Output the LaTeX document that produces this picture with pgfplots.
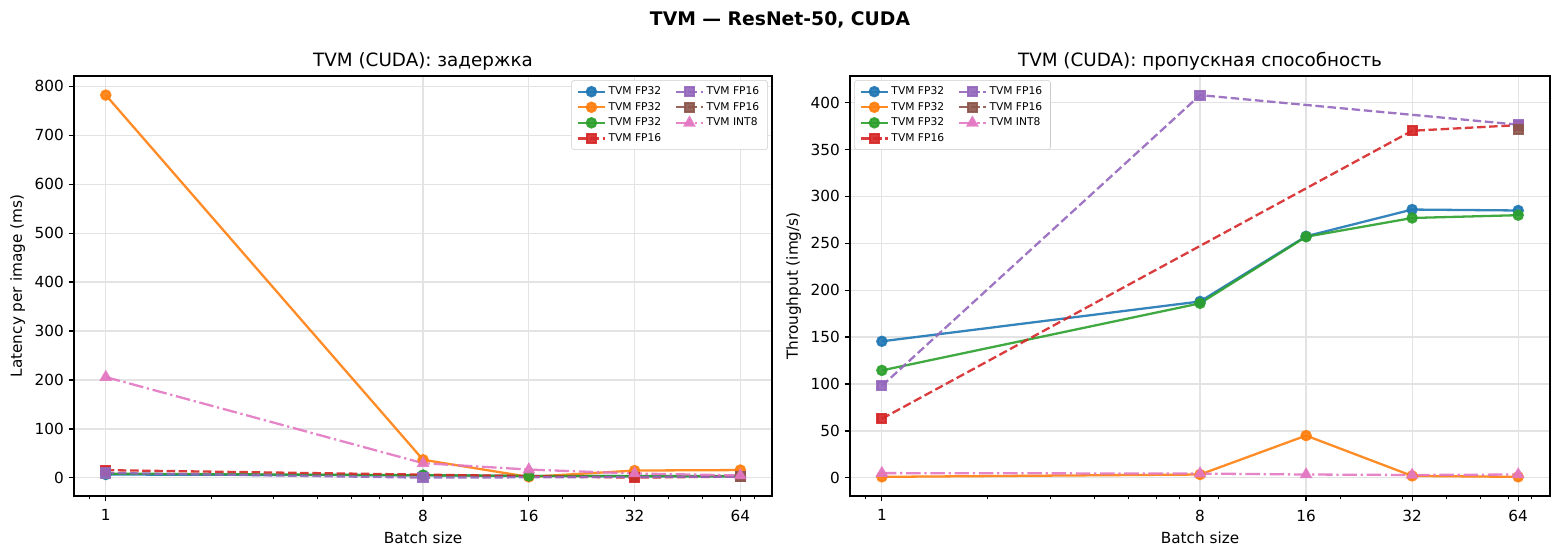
\documentclass[border=0pt]{standalone}
\usepackage{fontspec}
\setmainfont{DejaVu Sans}
\usepackage{pgfplots}
\pgfplotsset{compat=1.18}
\definecolor{c1}{HTML}{1F77B4}
\definecolor{c2}{HTML}{FF7F0E}
\definecolor{c3}{HTML}{2CA02C}
\definecolor{c4}{HTML}{D62728}
\definecolor{c5}{HTML}{9467BD}
\definecolor{c6}{HTML}{8C564B}
\definecolor{c7}{HTML}{E377C2}
\tikzset{
  sBlue/.style={color=c1, line width=1.65pt, solid, mark=*, mark size=3.3pt, mark options={solid}, opacity=0.9},
  sOrange/.style={color=c2, line width=1.65pt, solid, mark=*, mark size=3.3pt, mark options={solid}, opacity=0.9},
  sGreen/.style={color=c3, line width=1.65pt, solid, mark=*, mark size=3.3pt, mark options={solid}, opacity=0.9},
  sRed/.style={color=c4, line width=1.65pt, dash pattern=on 6.1pt off 2.65pt, mark=square*, mark size=3.2pt, mark options={solid}, opacity=0.9},
  sPurple/.style={color=c5, line width=1.65pt, dash pattern=on 6.1pt off 2.65pt, mark=square*, mark size=3.2pt, mark options={solid}, opacity=0.9},
  sBrown/.style={color=c6, line width=1.65pt, dash pattern=on 6.1pt off 2.65pt, mark=square*, mark size=3.2pt, mark options={solid}, opacity=0.9},
  sPink/.style={color=c7, line width=1.65pt, dash pattern=on 10.5pt off 2.65pt on 1.65pt off 2.65pt, mark=triangle*, mark size=3.7pt, mark options={solid}, opacity=0.9},
}
\begin{document}
\begin{tikzpicture}
\path[use as bounding box] (0,0) rectangle (1123.2pt,400.32pt);
\node[font=\bfseries\fontsize{13.5}{16}\selectfont] at (561.6pt,385.9pt) {TVM — ResNet-50, CUDA};
\begin{axis}[at={(53.28pt,43.2pt)}, anchor=south west,
    scale only axis, width=502.6pt, height=302.4pt,
    xmode=log, xmin=0.812, xmax=78.8,
    xtick={1,8,16,32,64}, xticklabels={1,8,16,32,64},
    minor xtick={0.9,2,3,4,5,6,7,9,20,30,40,50,60,70},
    tick align=outside, tick pos=left,
    major tick length=3.85pt, minor tick length=2.2pt,
    every tick/.style={black, line width=0.88pt},
    every minor tick/.style={black, line width=0.66pt},
    grid=major, major grid style={black!11, line width=0.88pt},
    axis line style={line width=0.88pt},
    tick label style={font=\fontsize{11}{13}\selectfont},
    xticklabel style={yshift=-2.5pt},
    label style={font=\fontsize{11}{13}\selectfont},
    xlabel style={yshift=-0.8pt},
    title style={font=\fontsize{13.2}{15}\selectfont, at={(0.5,1)}, anchor=base, yshift=1pt},
    /pgf/number format/assume math mode=true,
    xlabel={Batch size},
    legend columns=2,
    legend cell align=left,
    legend image code/.code={\draw[mark repeat=2,mark phase=2] plot coordinates {(0pt,0pt) (9.5pt,0pt) (19pt,0pt)};},
    legend style={font=\fontsize{7.7}{9}\selectfont, draw=black!20, rounded corners=2pt,
      inner xsep=4pt, inner ysep=2.5pt,
      /tikz/every even column/.append style={column sep=8pt},
      at={(1,1)}, anchor=north east, xshift=-3pt, yshift=-3pt},
  ymin=-37, ymax=821, ytick={0,100,...,800},
  ylabel={Latency per image (ms)},
  title={TVM (CUDA): задержка}]
\addplot[sBlue, forget plot] coordinates {(1,6.9) (8,5.3) (16,3.9) (32,3.5) (64,3.5)};
\addplot[sOrange, forget plot] coordinates {(1,782) (8,37) (16,2) (32,15) (64,16)};
\addplot[sGreen, forget plot] coordinates {(1,8.7) (8,5.4) (16,3.9) (32,3.6) (64,3.6)};
\addplot[sRed, forget plot] coordinates {(1,15.8) (32,0.5) (64,2.66)};
\addplot[sPurple, forget plot] coordinates {(1,10.1) (8,0.5) (64,2.65)};
\addplot[sBrown, forget plot] coordinates {(64,2.7)};
\addplot[sPink, forget plot] coordinates {(1,206) (8,30) (16,17) (32,9) (64,5)};
\addlegendimage{sBlue}\addlegendentry{TVM FP32}
\addlegendimage{sPurple}\addlegendentry{TVM FP16}
\addlegendimage{sOrange}\addlegendentry{TVM FP32}
\addlegendimage{sBrown}\addlegendentry{TVM FP16}
\addlegendimage{sGreen}\addlegendentry{TVM FP32}
\addlegendimage{sPink}\addlegendentry{TVM INT8}
\addlegendimage{sRed}\addlegendentry{TVM FP16}
\end{axis}
\begin{axis}[at={(612pt,43.2pt)}, anchor=south west,
    scale only axis, width=504pt, height=302.4pt,
    xmode=log, xmin=0.812, xmax=78.8,
    xtick={1,8,16,32,64}, xticklabels={1,8,16,32,64},
    minor xtick={0.9,2,3,4,5,6,7,9,20,30,40,50,60,70},
    tick align=outside, tick pos=left,
    major tick length=3.85pt, minor tick length=2.2pt,
    every tick/.style={black, line width=0.88pt},
    every minor tick/.style={black, line width=0.66pt},
    grid=major, major grid style={black!11, line width=0.88pt},
    axis line style={line width=0.88pt},
    tick label style={font=\fontsize{11}{13}\selectfont},
    xticklabel style={yshift=-2.5pt},
    label style={font=\fontsize{11}{13}\selectfont},
    xlabel style={yshift=-0.8pt},
    title style={font=\fontsize{13.2}{15}\selectfont, at={(0.5,1)}, anchor=base, yshift=1pt},
    /pgf/number format/assume math mode=true,
    xlabel={Batch size},
    legend columns=2,
    legend cell align=left,
    legend image code/.code={\draw[mark repeat=2,mark phase=2] plot coordinates {(0pt,0pt) (9.5pt,0pt) (19pt,0pt)};},
    legend style={font=\fontsize{7.7}{9}\selectfont, draw=black!20, rounded corners=2pt,
      inner xsep=4pt, inner ysep=2.5pt,
      /tikz/every even column/.append style={column sep=8pt},
      at={(0,1)}, anchor=north west, xshift=3pt, yshift=-3pt},
  ymin=-19.4, ymax=428.4, ytick={0,50,...,400},
  ylabel={Throughput (img/s)},
  title={TVM (CUDA): пропускная способность}]
\addplot[sBlue, forget plot] coordinates {(1,145.5) (8,188) (16,257.5) (32,286) (64,285)};
\addplot[sOrange, forget plot] coordinates {(1,1) (8,3.5) (16,45) (32,2) (64,1)};
\addplot[sGreen, forget plot] coordinates {(1,114.5) (8,186) (16,257) (32,277) (64,280)};
\addplot[sRed, forget plot] coordinates {(1,63) (32,370) (64,376)};
\addplot[sPurple, forget plot] coordinates {(1,98) (8,408) (64,376.5)};
\addplot[sBrown, forget plot] coordinates {(64,371)};
\addplot[sPink, forget plot] coordinates {(1,5) (8,4.5) (16,3.5) (32,3) (64,3.5)};
\addlegendimage{sBlue}\addlegendentry{TVM FP32}
\addlegendimage{sPurple}\addlegendentry{TVM FP16}
\addlegendimage{sOrange}\addlegendentry{TVM FP32}
\addlegendimage{sBrown}\addlegendentry{TVM FP16}
\addlegendimage{sGreen}\addlegendentry{TVM FP32}
\addlegendimage{sPink}\addlegendentry{TVM INT8}
\addlegendimage{sRed}\addlegendentry{TVM FP16}
\end{axis}
\end{tikzpicture}
\end{document}
